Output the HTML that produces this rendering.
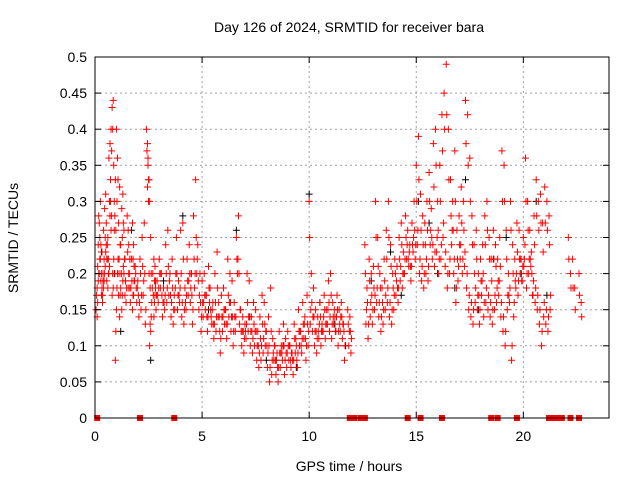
<!DOCTYPE html>
<html><head><meta charset="utf-8"><style>
body{margin:0;background:#fff;}
svg text{font-family:"Liberation Sans",sans-serif;font-size:14px;fill:#000;}
</style></head><body>
<svg id="chart" width="640" height="480" viewBox="0 0 640 480" xmlns="http://www.w3.org/2000/svg">
<rect x="0" y="0" width="640" height="480" fill="#fff"/>
<text x="349" y="32" text-anchor="middle">Day 126 of 2024, SRMTID for receiver bara</text>
<g id="grid"></g>
<g id="marks"></g>
<g id="axes"></g>
<text x="349" y="471" text-anchor="middle">GPS time / hours</text>
<text transform="translate(18,238) rotate(-90)" text-anchor="middle">SRMTID / TECUs</text>
</svg>
<script>
const xTicks=[0,5,10,15,20];
const yTicks=[0,0.05,0.1,0.15,0.2,0.25,0.3,0.35,0.4,0.45,0.5];
const yTickLabels=["0","0.05","0.1","0.15","0.2","0.25","0.3","0.35","0.4","0.45","0.5"];
const redT=[0.05,0.1,0.15,0.2,0.25,0.3,0.35,0.4,0.45,0.5,0.55,0.6,0.65,0.7,0.75,0.8,0.85,0.9,0.95,1.0,1.05,1.1,1.15,1.2,1.25,1.3,1.35,1.4,1.5,1.55,1.6,1.7,1.75,1.8,1.9,2.0,2.1,2.2,2.3,2.4,2.45,2.5,2.55,2.6,2.7,2.75,2.8,2.9,3.0,3.1,3.2,3.3,3.4,3.5,3.6,3.7,3.8,3.9,4.0,4.1,4.2,4.3,4.4,4.5,4.6,4.7,4.8,4.9,5.0,5.1,5.2,5.3,5.4,5.5,5.6,5.7,5.8,5.9,6.0,6.1,6.2,6.3,6.4,6.5,6.6,6.7,6.8,6.9,7.0,7.1,7.2,7.3,7.4,7.5,7.6,7.7,7.8,7.9,8.0,8.1,8.2,8.3,8.4,8.5,8.6,8.7,8.8,8.9,9.0,9.1,9.2,9.3,9.4,9.5,9.6,9.7,9.8,9.9,10.0,10.1,10.2,10.3,10.4,10.5,10.6,10.7,10.8,10.9,11.0,11.1,11.2,11.3,11.4,11.5,11.6,11.8,11.9,12.6,12.7,12.8,12.9,13.0,13.1,13.2,13.3,13.4,13.5,13.6,13.7,13.8,13.9,14.0,14.1,14.2,14.3,14.4,14.5,14.6,14.7,14.8,14.9,15.0,15.1,15.2,15.3,15.4,15.5,15.6,15.7,15.8,15.9,16.0,16.1,16.2,16.3,16.4,16.5,16.6,16.7,16.8,16.9,17.0,17.1,17.2,17.3,17.4,17.5,17.6,17.7,17.8,17.9,18.0,18.1,18.2,18.3,18.4,18.5,18.6,18.7,18.8,18.9,19.0,19.1,19.2,19.3,19.4,19.5,19.6,19.7,19.8,19.9,20.0,20.1,20.2,20.3,20.4,20.5,20.6,20.7,20.8,20.9,21.0,21.1,21.2,22.1,22.2,22.3,22.4,22.6,22.7];
const redA=[0.15,0.18,0.24,0.27,0.3,0.2,0.17,0.26,0.29,0.31,0.22,0.25,0.36,0.38,0.4,0.43,0.44,0.3,0.33,0.4,0.36,0.27,0.32,0.24,0.29,0.31,0.26,0.22,0.28,0.26,0.2,0.22,0.27,0.24,0.2,0.19,0.22,0.25,0.27,0.4,0.38,0.33,0.3,0.25,0.2,0.22,0.21,0.19,0.22,0.2,0.18,0.24,0.26,0.2,0.22,0.17,0.25,0.19,0.26,0.27,0.18,0.22,0.24,0.2,0.28,0.33,0.24,0.2,0.19,0.2,0.17,0.21,0.15,0.16,0.2,0.23,0.14,0.17,0.18,0.15,0.22,0.2,0.19,0.16,0.25,0.28,0.15,0.14,0.13,0.2,0.19,0.14,0.16,0.15,0.12,0.14,0.17,0.16,0.12,0.14,0.18,0.11,0.1,0.09,0.12,0.1,0.13,0.11,0.12,0.1,0.09,0.13,0.1,0.15,0.12,0.16,0.14,0.17,0.3,0.2,0.18,0.15,0.14,0.16,0.13,0.17,0.15,0.19,0.2,0.16,0.14,0.17,0.15,0.16,0.13,0.15,0.14,0.24,0.18,0.22,0.2,0.21,0.3,0.25,0.2,0.18,0.22,0.26,0.3,0.24,0.2,0.22,0.21,0.25,0.27,0.23,0.28,0.26,0.24,0.27,0.3,0.35,0.39,0.31,0.28,0.27,0.3,0.34,0.29,0.38,0.4,0.3,0.35,0.42,0.45,0.49,0.4,0.33,0.3,0.37,0.26,0.28,0.32,0.3,0.44,0.42,0.36,0.28,0.24,0.26,0.2,0.22,0.24,0.28,0.3,0.25,0.22,0.26,0.24,0.22,0.25,0.37,0.35,0.26,0.2,0.3,0.24,0.22,0.27,0.26,0.22,0.25,0.36,0.3,0.26,0.2,0.28,0.33,0.3,0.31,0.27,0.32,0.3,0.28,0.25,0.2,0.22,0.18,0.2,0.16,0.24,0.2];
const redB=[0.14,0.19,0.2,0.22,0.17,0.16,0.18,0.2,0.23,0.19,0.18,0.2,0.28,0.26,0.17,0.18,0.26,0.08,0.15,0.2,0.17,0.14,0.18,0.15,0.19,0.2,0.17,0.16,0.18,0.2,0.16,0.15,0.17,0.19,0.16,0.14,0.15,0.17,0.13,0.32,0.3,0.1,0.12,0.16,0.14,0.17,0.15,0.16,0.18,0.14,0.15,0.16,0.17,0.14,0.13,0.18,0.15,0.16,0.14,0.13,0.15,0.17,0.16,0.13,0.18,0.2,0.15,0.12,0.14,0.15,0.12,0.16,0.13,0.11,0.12,0.14,0.09,0.12,0.13,0.11,0.14,0.12,0.1,0.12,0.2,0.13,0.1,0.09,0.11,0.12,0.1,0.09,0.1,0.08,0.07,0.08,0.09,0.1,0.07,0.05,0.06,0.08,0.06,0.05,0.07,0.08,0.06,0.07,0.08,0.07,0.06,0.09,0.07,0.1,0.09,0.11,0.08,0.1,0.13,0.12,0.1,0.09,0.11,0.1,0.12,0.11,0.13,0.12,0.11,0.13,0.12,0.1,0.12,0.11,0.08,0.1,0.09,0.13,0.11,0.14,0.13,0.15,0.16,0.14,0.12,0.13,0.15,0.16,0.14,0.13,0.15,0.17,0.16,0.19,0.18,0.2,0.22,0.21,0.19,0.23,0.22,0.24,0.2,0.19,0.18,0.2,0.19,0.24,0.22,0.21,0.23,0.2,0.22,0.25,0.21,0.18,0.2,0.24,0.2,0.16,0.19,0.22,0.2,0.21,0.18,0.15,0.14,0.13,0.16,0.15,0.13,0.17,0.14,0.16,0.15,0.14,0.13,0.15,0.16,0.17,0.14,0.12,0.1,0.15,0.16,0.08,0.14,0.18,0.17,0.2,0.19,0.22,0.18,0.2,0.21,0.17,0.16,0.15,0.13,0.1,0.14,0.13,0.12,0.15];
const redC=[0.17,0.21,0.28,0.25,0.19,0.23,0.2,0.22,0.25,0.27,0.24,0.22,0.3,0.33,0.37,0.4,0.35,0.2,0.26,0.3,0.33,0.22,0.24,0.2,0.25,0.27,0.22,0.19,0.23,0.24,0.18,0.19,0.22,0.21,0.18,0.17,0.2,0.21,0.2,0.37,0.36,0.2,0.18,0.2,0.17,0.19,0.18,0.17,0.2,0.17,0.16,0.2,0.21,0.17,0.18,0.15,0.2,0.17,0.2,0.22,0.16,0.19,0.2,0.17,0.22,0.25,0.19,0.16,0.16,0.17,0.14,0.18,0.14,0.13,0.16,0.18,0.12,0.14,0.15,0.13,0.17,0.16,0.14,0.14,0.22,0.2,0.12,0.12,0.12,0.16,0.14,0.12,0.13,0.12,0.1,0.11,0.13,0.13,0.1,0.1,0.12,0.09,0.08,0.07,0.09,0.09,0.1,0.09,0.1,0.08,0.08,0.11,0.08,0.12,0.1,0.13,0.11,0.13,0.25,0.16,0.14,0.12,0.12,0.14,0.12,0.15,0.13,0.16,0.17,0.14,0.12,0.15,0.13,0.14,0.12,0.13,0.12,0.2,0.16,0.19,0.17,0.18,0.25,0.21,0.18,0.16,0.19,0.22,0.25,0.21,0.18,0.2,0.18,0.22,0.24,0.2,0.25,0.22,0.21,0.24,0.26,0.3,0.33,0.26,0.24,0.24,0.26,0.3,0.25,0.32,0.35,0.26,0.3,0.37,0.4,0.42,0.33,0.28,0.26,0.3,0.22,0.24,0.27,0.26,0.38,0.35,0.3,0.24,0.2,0.22,0.17,0.19,0.2,0.24,0.26,0.22,0.19,0.22,0.21,0.19,0.21,0.3,0.3,0.22,0.17,0.26,0.2,0.19,0.23,0.22,0.19,0.21,0.3,0.26,0.22,0.17,0.24,0.28,0.26,0.27,0.23,0.27,0.26,0.24,0.22,0.18,0.18,0.15,0.17,0.14,0.2,0.17];
const redD=[0.16,0.2,0.22,0.24,0.18,0.19,0.19,0.21,0.24,0.22,0.2,0.21,0.3,0.28,0.2,0.22,0.28,0.12,0.18,0.22,0.2,0.17,0.2,0.17,0.21,0.22,0.19,0.18,0.2,0.22,0.18,0.17,0.19,0.21,0.18,0.16,0.17,0.19,0.15,0.35,0.33,0.13,0.14,0.18,0.16,0.19,0.17,0.18,0.2,0.16,0.17,0.18,0.19,0.16,0.15,0.2,0.17,0.18,0.16,0.15,0.17,0.19,0.18,0.15,0.2,0.22,0.17,0.14,0.16,0.17,0.14,0.18,0.15,0.13,0.14,0.16,0.11,0.14,0.15,0.13,0.16,0.14,0.12,0.14,0.22,0.15,0.12,0.11,0.13,0.14,0.12,0.11,0.12,0.1,0.09,0.1,0.11,0.12,0.09,0.07,0.08,0.1,0.08,0.07,0.09,0.1,0.08,0.09,0.1,0.09,0.08,0.11,0.09,0.12,0.11,0.13,0.1,0.12,0.15,0.14,0.12,0.11,0.13,0.12,0.14,0.13,0.15,0.14,0.13,0.15,0.14,0.12,0.14,0.13,0.1,0.12,0.11,0.15,0.13,0.16,0.15,0.17,0.18,0.16,0.14,0.15,0.17,0.18,0.16,0.15,0.17,0.19,0.18,0.21,0.2,0.22,0.24,0.23,0.21,0.25,0.24,0.26,0.22,0.21,0.2,0.22,0.21,0.26,0.24,0.23,0.25,0.22,0.24,0.27,0.23,0.2,0.22,0.26,0.22,0.18,0.21,0.24,0.22,0.23,0.2,0.17,0.16,0.15,0.18,0.17,0.15,0.19,0.16,0.18,0.17,0.16,0.15,0.17,0.18,0.19,0.16,0.14,0.12,0.17,0.18,0.1,0.16,0.2,0.19,0.22,0.21,0.24,0.2,0.22,0.23,0.19,0.18,0.17,0.15,0.12,0.16,0.15,0.14,0.17];
const blackT=[0.3,0.9,1.2,1.7,2.6,3.2,4.1,4.5,5.3,6.0,6.6,7.2,8.0,8.8,9.4,10.0,10.5,11.2,11.7,12.9,13.8,14.3,15.1,15.6,16.0,16.8,17.3,17.9,18.6,19.2,19.9,20.6,21.1];
const blackV=[0.23,0.2,0.12,0.26,0.08,0.19,0.28,0.2,0.15,0.18,0.26,0.14,0.08,0.1,0.07,0.31,0.16,0.13,0.1,0.19,0.23,0.17,0.3,0.27,0.2,0.18,0.33,0.15,0.22,0.25,0.2,0.3,0.17];
const zeroT=[0.1,2.1,3.7,11.9,12.1,12.4,12.6,14.6,15.2,16.2,18.5,18.8,19.7,21.2,21.4,21.6,21.8,22.2,22.6];

const NS="http://www.w3.org/2000/svg";
const X0=95,X1=609,Y0=418,Y1=57;
function xs(t){return X0+(X1-X0)*t/24;}
function ys(v){return Y0-(Y0-Y1)*v/0.5;}
function mk(tag,attrs,parent){const e=document.createElementNS(NS,tag);for(const k in attrs)e.setAttribute(k,attrs[k]);parent.appendChild(e);return e;}
const grid=document.getElementById('grid'),marks=document.getElementById('marks'),axes=document.getElementById('axes');
yTicks.forEach((v,i)=>{
  if(v>0&&v<0.5){const g=mk('line',{x1:X0,x2:X1,y1:ys(v),y2:ys(v),stroke:'#a0a0a0','stroke-dasharray':'2,3'},grid);
  
  }
  mk('line',{x1:X0,x2:X0+6,y1:ys(v),y2:ys(v),stroke:'#000'},axes);
  mk('line',{x1:X1,x2:X1-6,y1:ys(v),y2:ys(v),stroke:'#000'},axes);
  const t=mk('text',{x:X0-8,y:ys(v)+5,'text-anchor':'end'},axes);t.textContent=yTickLabels[i];
  
  
});
xTicks.forEach(h=>{
  if(h>0){const g=mk('line',{x1:xs(h),x2:xs(h),y1:Y0,y2:Y1,stroke:'#a0a0a0','stroke-dasharray':'2,3'},grid);
  
  }
  mk('line',{x1:xs(h),x2:xs(h),y1:Y0,y2:Y0-6,stroke:'#000'},axes);
  mk('line',{x1:xs(h),x2:xs(h),y1:Y1,y2:Y1+6,stroke:'#000'},axes);
  const t=mk('text',{x:xs(h),y:Y0+23,'text-anchor':'middle'},axes);t.textContent=String(h);
  
  
});
const frame=mk('rect',{x:X0,y:Y1,width:X1-X0,height:Y0-Y1,fill:'none',stroke:'#000'},axes);


function plus(t,v,col,name){if(v===undefined)return;const x=xs(t),y=ys(v);
  const p=mk('path',{d:`M${x-3.5},${y}h7M${x},${y-3.5}v7`,stroke:col,'stroke-width':1,fill:'none'},marks);
  
  }
blackT.forEach((t,i)=>plus(t,blackV[i],'#000','black-point'));
redT.forEach((t,i)=>{
  plus(t,redA[i],'#f00','red-point');
  plus(t+0.05,redB[i],'#f00','red-point');
  plus(t+0.025,redC[i],'#f00','red-point');
  plus(t+0.075,redD[i],'#f00','red-point');
});
zeroT.forEach(t=>{const r=mk('rect',{x:xs(t)-3,y:Y0-3,width:6,height:6,fill:'#f00'},marks);
  
  });
</script>
</body></html>
